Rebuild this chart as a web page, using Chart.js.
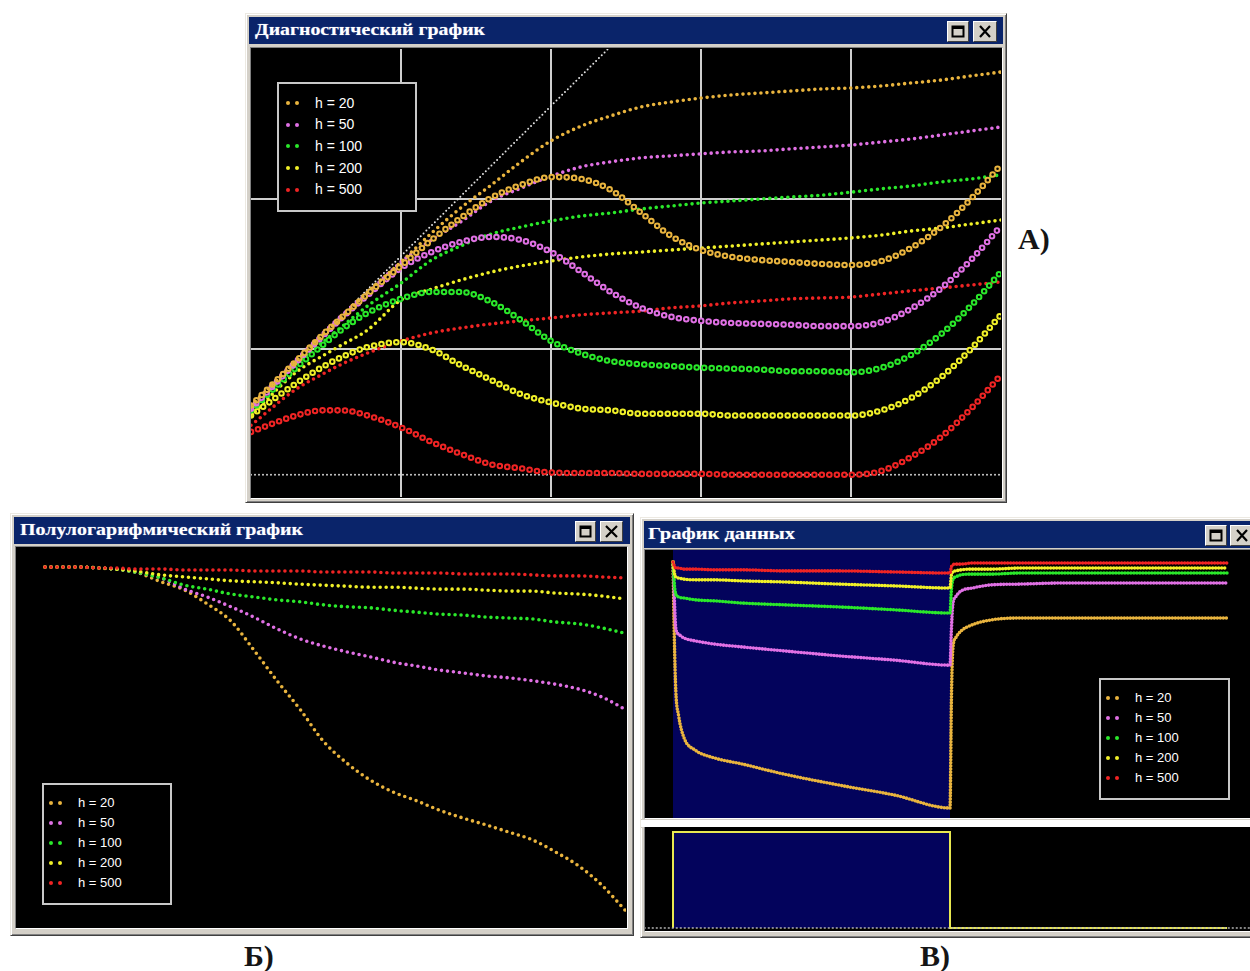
<!DOCTYPE html>
<html>
<head>
<meta charset="utf-8">
<script src="https://cdn.jsdelivr.net/npm/chart.js@4.4.1/dist/chart.umd.min.js"></script>
<style>
body { margin:0; width:1250px; height:971px; background:#fff; position:relative; overflow:hidden; font-family:"Liberation Sans", Arial, sans-serif; }
.frame { position:absolute; background:#d4d0c8; box-sizing:border-box; border:1px solid; border-color:#ece9e2 #404040 #404040 #ece9e2; box-shadow: inset 1px 1px #fff, inset -1px -1px #808080; }
.titlebar { position:absolute; background:#0a246a; color:#fff; box-sizing:border-box; overflow:hidden; }
.titlebar span { position:absolute; top:3px; font:bold 17px "Liberation Serif", serif; white-space:nowrap; transform-origin:left top; text-shadow:0 0 1px #8090c0; }
.btn { position:absolute; background:#d4d0c8; box-sizing:border-box; border:1px solid; border-color:#fff #404040 #404040 #fff; }
.btn svg { position:absolute; left:0; top:0; }
.plotbg { position:absolute; background:#000; box-sizing:border-box; border:1px solid; border-color:#808080 #fff #fff #808080; }
canvas { position:absolute; background:#000; }
.legend { position:absolute; background:#000; border:2px solid #c8c8c8; box-sizing:border-box; }
.legend .row { position:absolute; left:0; color:#fff; white-space:nowrap; }
.legend .dot { position:absolute; width:4px; height:4px; border-radius:50%; }
.tag { position:absolute; font:bold 30px "Liberation Serif", serif; color:#151515; }
</style>
</head>
<body>

<!-- A) diagnostic (log-log) window -->
<div class="frame" style="left:245px;top:13px;width:762px;height:490px;"></div>
<div class="titlebar" style="left:249px;top:17px;width:754px;height:27px;"><span data-w="230" style="left:6px;">Диагностический график</span></div>
<div class="btn" style="left:947px;top:21px;width:22px;height:21px;"><svg width="20" height="19"><rect x="4.5" y="4.5" width="11" height="10" fill="none" stroke="#000" stroke-width="2"/><line x1="4" y1="6" x2="16" y2="6" stroke="#000" stroke-width="2"/></svg></div>
<div class="btn" style="left:973px;top:21px;width:24px;height:21px;"><svg width="22" height="19"><path d="M6 4 L16 15 M16 4 L6 15" stroke="#000" stroke-width="2.2"/></svg></div>
<div class="plotbg" style="left:250px;top:47px;width:753px;height:452px;"></div>
<canvas id="chartA" width="750" height="448" style="left:251px;top:49px;width:750px;height:448px;"></canvas>
<div class="legend" id="legA" style="left:277px;top:82px;width:140px;height:130px;"></div>

<!-- Б) semilog window -->
<div class="frame" style="left:10px;top:513px;width:624px;height:423px;"></div>
<div class="titlebar" style="left:14px;top:517px;width:616px;height:27px;"><span data-w="283" style="left:6px;">Полулогарифмический график</span></div>
<div class="btn" style="left:575px;top:521px;width:21px;height:21px;"><svg width="19" height="19"><rect x="4.5" y="4.5" width="10" height="10" fill="none" stroke="#000" stroke-width="2"/><line x1="4" y1="6" x2="15" y2="6" stroke="#000" stroke-width="2"/></svg></div>
<div class="btn" style="left:600px;top:521px;width:23px;height:21px;"><svg width="21" height="19"><path d="M5 4 L16 15 M16 4 L5 15" stroke="#000" stroke-width="2.2"/></svg></div>
<div class="plotbg" style="left:15px;top:546px;width:613px;height:383px;"></div>
<canvas id="chartB" width="610" height="380" style="left:16px;top:547px;width:610px;height:380px;"></canvas>
<div class="legend" id="legB" style="left:42px;top:783px;width:130px;height:122px;"></div>

<!-- В) data window -->
<div class="frame" style="left:640px;top:517px;width:620px;height:421px;"></div>
<div class="titlebar" style="left:644px;top:521px;width:612px;height:27px;"><span data-w="147" style="left:4px;">График данных</span></div>
<div class="btn" style="left:1205px;top:525px;width:22px;height:21px;"><svg width="20" height="19"><rect x="4.5" y="4.5" width="11" height="10" fill="none" stroke="#000" stroke-width="2"/><line x1="4" y1="6" x2="16" y2="6" stroke="#000" stroke-width="2"/></svg></div>
<div class="btn" style="left:1230px;top:525px;width:24px;height:21px;"><svg width="22" height="19"><path d="M6 4 L16 15 M16 4 L6 15" stroke="#000" stroke-width="2.2"/></svg></div>
<div class="plotbg" style="left:644px;top:549px;width:612px;height:270px;"></div>
<canvas id="chartC" width="605" height="268" style="left:645px;top:550px;width:605px;height:268px;"></canvas>
<div style="position:absolute;left:641px;top:819px;width:615px;height:7px;background:#fff;border-top:1px solid #d4d0c8;border-bottom:1px solid #d4d0c8;"></div>
<div class="plotbg" style="left:644px;top:827px;width:612px;height:105px;"></div>
<canvas id="chartD" width="605" height="103" style="left:645px;top:827px;width:605px;height:103px;"></canvas>
<div class="legend" id="legC" style="left:1099px;top:678px;width:131px;height:122px;"></div>

<div class="tag" style="left:1018px;top:222px;">A)</div>
<div class="tag" style="left:244px;top:939px;">Б)</div>
<div class="tag" style="left:920px;top:939px;">В)</div>

<script>
// ---- series labels and colours ----
const hLabels = ['h = 20', 'h = 50', 'h = 100', 'h = 200', 'h = 500'];
const hColors = ['#e9b43e', '#e070e4', '#2ae82a', '#f0f028', '#f02424'];

// ---- A) diagnostic plot: time, pressure change (+) and derivative (o) ----
const tLog = [1, 2, 3, 4, 6, 10, 16, 25, 40, 63, 100, 160, 250, 400, 630, 1000, 1600, 2500, 4000, 6300, 10000, 16000, 25000, 40000, 63000, 100000];
const dp20  = [0.42, 0.83, 1.24, 1.61, 2.40, 3.80, 5.93, 8.71, 12.4, 17.7, 24.4, 30.7, 35.8, 41.1, 44.3, 47.1, 49.4, 50.9, 52.5, 54.1, 55.0, 56.7, 59.3, 62.1, 66.1, 70.3];
const dp50  = [0.40, 0.82, 1.22, 1.61, 2.36, 3.80, 5.33, 7.03, 9.70, 11.8, 14.2, 16.4, 17.7, 18.8, 19.4, 20.0, 20.6, 20.9, 21.6, 22.2, 22.9, 24.0, 25.1, 26.7, 28.4, 30.2];
const dp100 = [0.39, 0.79, 1.11, 1.40, 1.94, 2.75, 3.92, 4.86, 5.84, 6.51, 7.13, 7.70, 8.07, 8.58, 8.98, 9.40, 9.70, 10.0, 10.3, 10.6, 11.1, 11.7, 12.2, 13.0, 13.6, 14.5];
const dp200 = [0.36, 0.70, 0.90, 1.06, 1.34, 2.12, 2.51, 2.88, 3.26, 3.58, 3.86, 4.11, 4.30, 4.43, 4.57, 4.71, 4.86, 5.01, 5.17, 5.33, 5.50, 5.75, 6.12, 6.41, 6.81, 7.24];
const dp500 = [0.31, 0.54, 0.68, 0.79, 0.94, 1.13, 1.28, 1.38, 1.47, 1.54, 1.61, 1.69, 1.74, 1.79, 1.88, 1.94, 2.03, 2.09, 2.16, 2.19, 2.22, 2.33, 2.44, 2.55, 2.67, 2.80];
const der20  = [0.42, 0.83, 1.24, 1.61, 2.33, 3.58, 5.33, 7.47, 10.2, 12.4, 14.0, 13.6, 11.5, 8.07, 5.67, 4.57, 4.11, 3.92, 3.80, 3.69, 3.63, 3.86, 4.71, 6.51, 10.0, 16.9];
const der50  = [0.40, 0.82, 1.22, 1.61, 2.29, 3.47, 4.43, 5.17, 5.58, 5.33, 4.43, 3.26, 2.40, 1.88, 1.64, 1.54, 1.49, 1.47, 1.45, 1.42, 1.42, 1.51, 1.85, 2.55, 3.92, 6.61];
const der100 = [0.39, 0.75, 1.06, 1.34, 1.74, 2.16, 2.40, 2.40, 2.06, 1.56, 1.13, 0.93, 0.83, 0.79, 0.77, 0.75, 0.74, 0.73, 0.71, 0.71, 0.70, 0.75, 0.91, 1.26, 1.94, 3.26];
const der200 = [0.36, 0.59, 0.76, 0.88, 1.03, 1.11, 0.99, 0.78, 0.62, 0.50, 0.44, 0.40, 0.39, 0.37, 0.37, 0.37, 0.36, 0.36, 0.36, 0.36, 0.36, 0.39, 0.47, 0.65, 1.00, 1.69];
const der500 = [0.28, 0.36, 0.39, 0.39, 0.36, 0.30, 0.24, 0.20, 0.17, 0.16, 0.15, 0.149, 0.149, 0.147, 0.147, 0.147, 0.145, 0.145, 0.145, 0.145, 0.145, 0.154, 0.19, 0.26, 0.40, 0.67];
const unitSlopeT = [1, 240];
const unitSlopeP = [0.417, 100];
const lowLineT = [1, 100000];
const lowLineP = [0.145, 0.145];
const gridT = [10, 100, 1000, 10000];
const gridP = [1, 10];

// ---- Б) semilog plot: pressure vs log time ----
const pSemi20  = [99.9, 99.9, 99.7, 99.5, 98.9, 96.9, 95.2, 92.4, 88.9, 83.0, 76.7, 70.7, 64.4, 59.9, 56.5, 54.0, 52.2, 50.3, 48.7, 47.3, 45.8, 44.2, 41.8, 38.9, 35.0, 29.9];
const pSemi50  = [99.9, 99.9, 99.7, 99.5, 98.9, 97.7, 95.4, 93.8, 91.8, 89.7, 87.3, 85.2, 83.8, 82.6, 81.6, 80.5, 79.7, 78.9, 78.3, 77.7, 77.3, 76.7, 76.0, 75.0, 73.4, 70.9];
const pSemi100 = [99.9, 99.9, 99.7, 99.5, 98.9, 97.7, 96.2, 95.4, 94.4, 93.8, 93.2, 92.8, 92.2, 91.8, 91.6, 91.1, 90.7, 90.3, 90.1, 89.7, 89.5, 89.3, 88.7, 88.3, 87.5, 86.4];
const pSemi200 = [99.9, 99.9, 99.7, 99.5, 99.1, 98.3, 97.9, 97.5, 97.1, 96.9, 96.7, 96.4, 96.2, 96.0, 95.8, 95.8, 95.6, 95.4, 95.4, 95.2, 95.0, 95.0, 94.6, 94.4, 94.0, 93.4];
const pSemi500 = [99.9, 99.9, 99.7, 99.7, 99.5, 99.5, 99.3, 99.3, 99.3, 99.1, 99.1, 99.1, 98.9, 98.9, 98.9, 98.7, 98.7, 98.7, 98.5, 98.5, 98.5, 98.3, 98.1, 98.1, 97.9, 97.7];

// ---- В) data plot: pressure history and rate ----
const tHist = [0, 0.5, 1, 2, 4, 8, 15, 25, 40, 60, 80, 100, 100.5, 101, 102, 104, 108, 115, 125, 140, 160, 180, 200];
const pHist20  = [100, 78.2, 64.1, 57.1, 50.7, 47.3, 45.1, 43.4, 40.6, 37.5, 34.7, 31.1, 61.3, 75.4, 78.7, 80.7, 82.4, 83.8, 84.3, 84.3, 84.3, 84.3, 84.3];
const pHist50  = [100, 89.4, 81.5, 79.8, 78.7, 77.9, 77.0, 76.2, 75.1, 73.7, 72.5, 71.1, 81.0, 88.0, 90.2, 91.9, 92.7, 93.6, 93.8, 94.1, 94.1, 94.1, 94.1];
const pHist100 = [100, 93.6, 91.0, 90.2, 89.9, 89.4, 89.1, 88.5, 88.0, 87.4, 86.6, 85.7, 92.2, 95.0, 95.8, 96.4, 96.6, 96.6, 96.9, 96.9, 96.9, 96.9, 96.9];
const pHist200 = [100, 96.9, 95.8, 95.5, 95.2, 95.0, 95.0, 94.7, 94.4, 93.8, 93.3, 92.7, 96.4, 97.2, 97.5, 97.8, 98.0, 98.0, 98.3, 98.3, 98.3, 98.3, 98.3];
const pHist500 = [100, 98.9, 98.3, 98.3, 98.0, 98.0, 97.8, 97.8, 97.5, 97.5, 97.2, 96.9, 98.6, 99.2, 99.4, 99.4, 99.7, 99.7, 99.7, 99.7, 99.7, 99.7, 99.7];
const flowPeriod = [0, 100];
const rateT = [0, 0, 100, 100, 200];
const rateQ = [0, 1, 1, 0, 0];
const zeroT = [-12, 212];
const zeroQ = [0, 0];

const dpAll  = [dp20, dp50, dp100, dp200, dp500];
const derAll = [der20, der50, der100, der200, der500];
const semiAll = [pSemi20, pSemi50, pSemi100, pSemi200, pSemi500];
const histAll = [pHist20, pHist50, pHist100, pHist200, pHist500];

function pts(xs, ys) {
  return xs.map((x, i) => ({ x: x, y: ys[i] }));
}

// chain of round dots drawn along the curve
function dotted(xs, ys, color, width, gap) {
  return {
    data: pts(xs, ys), showLine: true, borderColor: color, borderWidth: width,
    borderDash: [0, gap], borderCapStyle: 'round', pointRadius: 0,
    cubicInterpolationMode: 'monotone'
  };
}

function hidden(type, min, max) {
  return { type: type, display: false, min: min, max: max };
}

function baseOptions(scales) {
  return {
    responsive: false, animation: false, events: [],
    layout: { padding: 0 },
    plugins: { legend: { display: false }, tooltip: { enabled: false } },
    scales: scales
  };
}

// ---- A ----  (Chart.js paints the first dataset last, i.e. on top)
const setsA = [];
for (let i = 0; i < 5; i++) {
  setsA.push(dotted(tLog, dpAll[i], hColors[i], 3.6, 6));
  setsA.push(dotted(tLog, derAll[i], '#000', 2.6, 7.5));
  setsA.push(dotted(tLog, derAll[i], hColors[i], 6.6, 7.5));
}
setsA.push(dotted(unitSlopeT, unitSlopeP, '#e0e0e0', 2, 4));
setsA.push(dotted(lowLineT, lowLineP, '#d0d0d0', 2, 4));

new Chart(document.getElementById('chartA'), {
  type: 'scatter',
  data: { datasets: setsA },
  options: baseOptions({
    x: {
      type: 'logarithmic', min: 1, max: 100000,
      ticks: { display: false },
      grid: { color: '#cfcfcf', lineWidth: 2, drawTicks: false },
      border: { display: false },
      afterBuildTicks: s => { s.ticks = gridT.map(v => ({ value: v })); }
    },
    y: {
      type: 'logarithmic', min: 0.1031, max: 100,
      ticks: { display: false },
      grid: { color: '#cfcfcf', lineWidth: 2, drawTicks: false },
      border: { display: false },
      afterBuildTicks: s => { s.ticks = gridP.map(v => ({ value: v })); }
    }
  })
});

// ---- Б ----
const setsB = [];
for (let i = 4; i >= 0; i--) {
  setsB.push(dotted(tLog, semiAll[i], hColors[i], 3.6, 6));
}
new Chart(document.getElementById('chartB'), {
  type: 'scatter',
  data: { datasets: setsB },
  options: baseOptions({
    x: hidden('logarithmic', 0.5623, 102000),
    y: hidden('linear', 26.45, 104)
  })
});

// ---- В upper: pressure history with flow period shaded ----
const bandPlugin = {
  id: 'band',
  beforeDatasetsDraw(chart, args, opts) {
    const { ctx, chartArea, scales } = chart;
    const x0 = scales.x.getPixelForValue(opts.from);
    const x1 = scales.x.getPixelForValue(opts.to);
    ctx.save();
    ctx.fillStyle = opts.color;
    ctx.fillRect(x0, chartArea.top, x1 - x0, chartArea.bottom - chartArea.top);
    ctx.restore();
  }
};

const setsC = [];
for (let i = 4; i >= 0; i--) {
  setsC.push(dotted(tHist, histAll[i], hColors[i], 3.6, 3));
}
const optC = baseOptions({
  x: hidden('linear', -10.11, 208.3),
  y: hidden('linear', 28.29, 103.36)
});
optC.plugins.band = { from: flowPeriod[0], to: flowPeriod[1], color: '#03035c' };
new Chart(document.getElementById('chartC'), {
  type: 'scatter',
  data: { datasets: setsC },
  options: optC,
  plugins: [bandPlugin]
});

// ---- В lower: rate ----
new Chart(document.getElementById('chartD'), {
  type: 'scatter',
  data: {
    datasets: [
      { data: pts(zeroT, zeroQ), showLine: true, borderColor: '#b0b0b0', borderWidth: 1.5, borderDash: [2, 2], pointRadius: 0 },
      { data: pts(rateT, rateQ), showLine: true, borderColor: '#e8e850', borderWidth: 2, pointRadius: 0, tension: 0,
        fill: 'origin', backgroundColor: '#03035c' }
    ]
  },
  options: baseOptions({
    x: hidden('linear', -10.11, 208.3),
    y: hidden('linear', -0.021, 1.052)
  })
});

// ---- legends ----
function makeLegend(id, firstRow, step, dotX, textX, fontSize) {
  const box = document.getElementById(id);
  hLabels.forEach((lab, i) => {
    const top = firstRow + i * step;
    [dotX, dotX + 9].forEach(dx => {
      const d = document.createElement('div');
      d.className = 'dot';
      d.style.left = dx + 'px';
      d.style.top = (top - 2) + 'px';
      d.style.background = hColors[i];
      box.appendChild(d);
    });
    const r = document.createElement('div');
    r.className = 'row';
    r.style.left = textX + 'px';
    r.style.top = (top - fontSize * 0.6) + 'px';
    r.style.fontSize = fontSize + 'px';
    r.textContent = lab;
    box.appendChild(r);
  });
}
makeLegend('legA', 19, 21.7, 7, 36, 14);
makeLegend('legB', 18, 20, 5, 34, 13);
makeLegend('legC', 18, 20, 5, 34, 13);

// stretch title texts to the width they have in the window caption
document.querySelectorAll('.titlebar span').forEach(s => {
  const w = s.getBoundingClientRect().width;
  s.style.transform = 'scaleX(' + (Number(s.dataset.w) / w) + ')';
});
</script>
</body>
</html>
